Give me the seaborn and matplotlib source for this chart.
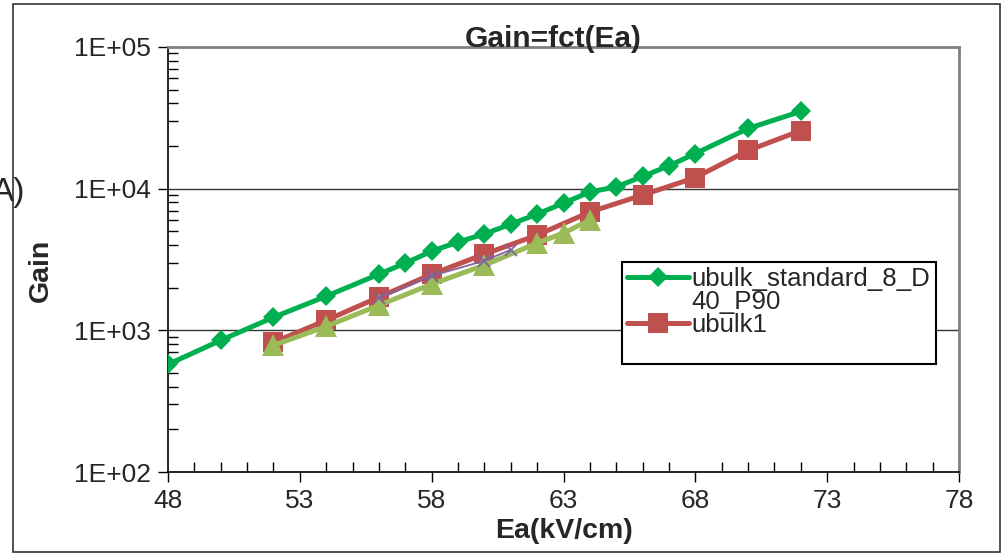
import numpy as np
import pandas as pd
import seaborn as sns
import matplotlib.pyplot as plt
from matplotlib.lines import Line2D
from matplotlib.patches import Rectangle
from matplotlib.ticker import FixedLocator, LogLocator, NullFormatter

# data
ea_std = [48, 50, 52, 54, 56, 57, 58, 59, 60, 61, 62, 63, 64, 65, 66, 67, 68, 70, 72]
gain_std = [575, 850, 1236, 1740, 2490, 2980, 3620, 4200, 4790, 5620, 6610,
            7910, 9470, 10300, 12200, 14500, 17700, 26600, 35100]

ea_ubulk1 = [52, 54, 56, 58, 60, 62, 64, 66, 68, 70, 72]
gain_ubulk1 = [822, 1178, 1713, 2490, 3450, 4700, 6840, 9020, 11970, 18600, 25700]

ea_ubulk2 = [52, 54, 56, 58, 60, 62, 63, 64]
gain_ubulk2 = [783, 1067, 1503, 2117, 2886, 4130, 4860, 6000]

ea_ubulk3 = [56, 58, 60, 61]
gain_ubulk3 = [1690, 2420, 3100, 3700]

x_ticks = [48, 53, 58, 63, 68, 73, 78]
y_ticks = [1e2, 1e3, 1e4, 1e5]
y_tick_labels = ['1E+02', '1E+03', '1E+04', '1E+05']

sns.set_style('white')
plt.rcParams['font.family'] = ['Liberation Sans', 'DejaVu Sans']

fig = plt.figure(figsize=(10.05, 5.53), dpi=100)
ax = fig.add_axes([168 / 1005, 1 - 472 / 553, (959 - 168) / 1005, (472 - 47) / 553])

sns.lineplot(x=ea_std, y=gain_std, ax=ax, color='#00B050', lw=3.6,
             marker='D', markersize=10.5, markeredgewidth=0, zorder=3)
sns.lineplot(x=ea_ubulk1, y=gain_ubulk1, ax=ax, color='#C0504D', lw=3.6,
             marker='s', markersize=14, markeredgewidth=0, zorder=4)
sns.lineplot(x=ea_ubulk2, y=gain_ubulk2, ax=ax, color='#9BBB59', lw=3.6,
             marker='^', markersize=16, markeredgewidth=0, zorder=5)
sns.lineplot(x=ea_ubulk3, y=gain_ubulk3, ax=ax, color='#8064A2', lw=1.3,
             marker='x', markersize=9, markeredgewidth=1.3,
             markeredgecolor='#8064A2', zorder=6)

ax.set_yscale('log')
ax.set_xlim(48, 78)
ax.set_ylim(1e2, 1e5)
ax.set_xticks(x_ticks)
ax.set_xticklabels([str(t) for t in x_ticks])
ax.xaxis.set_minor_locator(FixedLocator(np.arange(48, 79, 1)))
ax.set_yticks(y_ticks)
ax.set_yticklabels(y_tick_labels)
ax.yaxis.set_minor_locator(LogLocator(base=10, subs=np.arange(2, 10)))
ax.yaxis.set_minor_formatter(NullFormatter())

ax.tick_params(which='major', direction='out', length=7, width=1, color='black',
               labelsize=19, pad=5, left=True, bottom=True)
ax.tick_params(which='minor', direction='in', length=7, width=1, color='black',
               left=True, bottom=True)

ax.grid(False)
for yv in [1e3, 1e4]:
    ax.axhline(yv, color='#333333', lw=1, zorder=1)

ax.spines['left'].set_color('black')
ax.spines['bottom'].set_color('black')
ax.spines['left'].set_linewidth(1.2)
ax.spines['bottom'].set_linewidth(1.2)
ax.spines['top'].set_color('#808080')
ax.spines['right'].set_color('#808080')
ax.spines['top'].set_linewidth(2)
ax.spines['right'].set_linewidth(2)

ax.set_xlabel('Ea(kV/cm)', fontsize=20.5, fontweight='bold')
ax.xaxis.set_label_coords((564 - 168) / 791, (472 - 518) / 425)
ax.set_ylabel('Gain', fontsize=20.5, fontweight='bold')
ax.yaxis.set_label_coords((54 - 168) / 791, (472 - 270) / 425)

fig.text(553 / 1005, 1 - 39 / 553, 'Gain=fct(Ea)', fontsize=21.5, fontweight='bold',
         ha='center', va='center')

# fragment of a neighbouring panel label, cut by the left edge
fig.text(-8 / 1005, 1 - 193 / 553, 'A)', fontsize=24, ha='left', va='center')

handles = [
    Line2D([], [], color='#00B050', lw=3.6, marker='D', markersize=10.5, markeredgewidth=0),
    Line2D([], [], color='none'),
    Line2D([], [], color='#C0504D', lw=3.6, marker='s', markersize=14, markeredgewidth=0),
    Line2D([], [], color='none'),
]
labels = ['ubulk_standard_8_D', '40_P90', 'ubulk1', ' ']
leg = ax.legend(handles, labels, loc='upper left',
                bbox_to_anchor=(622 / 1005, 1 - 262 / 553), bbox_transform=fig.transFigure,
                fontsize=18.6, frameon=True, fancybox=False, framealpha=1,
                edgecolor='black', handlelength=2.4, handletextpad=0.1,
                labelspacing=-0.05, borderpad=0.2, borderaxespad=0)
leg.get_frame().set_linewidth(1.5)
leg.set_zorder(10)

fig.patches.append(Rectangle((13 / 1005, 1 / 553), (1000 - 13) / 1005, (552 - 4) / 553,
                             transform=fig.transFigure, fill=False,
                             edgecolor='#333333', lw=1.2))

fig.savefig('out.png', dpi=100)
